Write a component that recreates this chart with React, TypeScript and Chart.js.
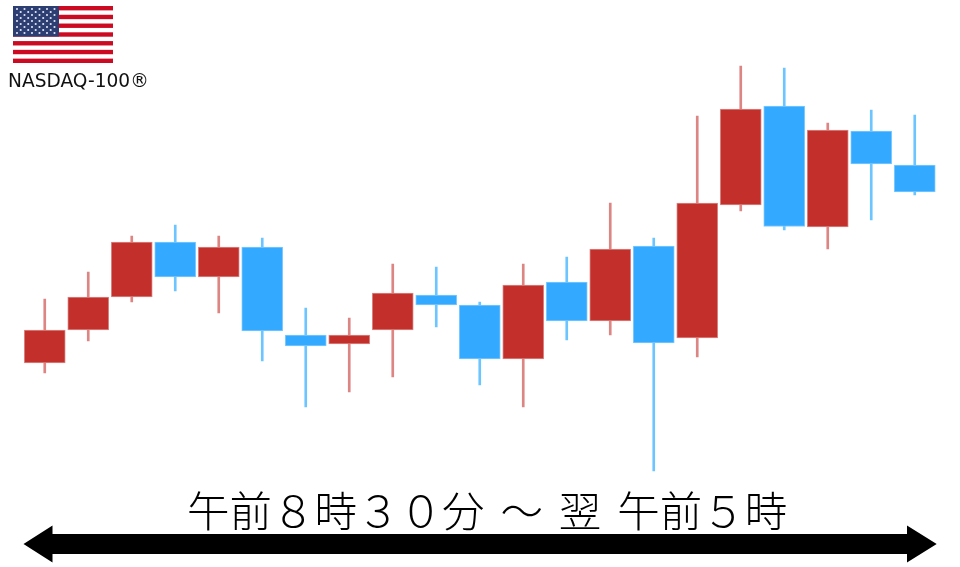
import React, { useEffect, useRef } from "react";
import { Chart, registerables } from "chart.js";

Chart.register(...registerables);

const categories = ["1","2","3","4","5","6","7","8","9","10","11","12","13","14","15","16","17","18","19","20","21"];
const opens = [204,237,270,325,290,320,232,223,237,272,262,208,285,246,321,229,362,461,340,436,402];
const closes = [237,270,325,290,320,236,221,232,274,262,208,282,246,318,224,364,458,340.5,437,403,375];
const highs = [268,295,331,342,331,329,259,249,303,300,265,303,310,364,329,451,501,499,444,457,452];
const lows = [194,226,265,276,254,206,160,175,190,240,182,160,227,232,96,210,356,337,318,347,372];
const bodyRanges = opens.map((o, i) => [o, closes[i]]);
const wickRanges = lows.map((l, i) => [l, highs[i]]);
const isUp = opens.map((o, i) => closes[i] > o);

const flagStripes = [0,1,2,3,4,5,6,7,8,9,10,11,12];
const starRows = [0,1,2,3,4,5,6,7,8];

export default function App() {
  const ref = useRef<HTMLCanvasElement>(null);
  useEffect(() => {
    const arrowPlugin = {
      id: "arrow",
      afterDraw(chart: any) {
        const c = chart.ctx;
        c.save();
        c.fillStyle = "#000";
        c.beginPath();
        c.moveTo(23.5, 544);
        c.lineTo(52.5, 525.5);
        c.lineTo(52.5, 534);
        c.lineTo(907, 534);
        c.lineTo(907, 525.5);
        c.lineTo(936.7, 544);
        c.lineTo(907, 562.5);
        c.lineTo(907, 554);
        c.lineTo(52.5, 554);
        c.lineTo(52.5, 562.5);
        c.closePath();
        c.fill();
        c.restore();
      },
    };
    const chart = new Chart(ref.current!, {
      type: "bar",
      data: {
        labels: categories,
        datasets: [
          {
            label: "body",
            data: bodyRanges as any,
            barThickness: 41,
            grouped: false,
            order: 1,
            backgroundColor: isUp.map((u) => (u ? "#C32F2A" : "#33A9FF")),
            borderColor: isUp.map((u) => (u ? "#DC8885" : "#7FCBFF")),
            borderWidth: 1,
            borderSkipped: false,
          },
          {
            label: "wick",
            data: wickRanges as any,
            barThickness: 2,
            grouped: false,
            order: 2,
            backgroundColor: isUp.map((u) => (u ? "#DD8583" : "#6CC5FF")),
            borderWidth: 0,
          },
        ],
      },
      options: {
        responsive: false,
        animation: false,
        layout: { padding: { left: 23, right: 23.5, top: 0, bottom: 0 } },
        plugins: { legend: { display: false }, tooltip: { enabled: false } },
        scales: {
          x: { display: false, offset: true, grid: { display: false } },
          y: { display: false, min: 0, max: 567 },
        },
      },
      plugins: [arrowPlugin],
    } as any);
    return () => chart.destroy();
  }, []);

  return (
    <div style={{ position: "fixed", left: 0, top: 0, width: 960, height: 567, background: "#fff", overflow: "hidden" }}>
      <canvas ref={ref} width={960} height={567} style={{ position: "absolute", left: 0, top: 0, display: "block" }} />
      <svg width={100} height={57} viewBox="0 0 100 57" style={{ position: "absolute", left: 13, top: 6, filter: "blur(0.4px)" }}>
        <rect width={100} height={57} fill="#fff" />
        {flagStripes.filter((s) => s % 2 === 0).map((s) => (
          <rect key={s} x={0} y={(s * 57) / 13} width={100} height={57 / 13} fill="#CC0A22" />
        ))}
        <rect x={0} y={0} width={46} height={30.5} fill="#2D3E72" />
        {starRows.map((r) =>
          Array.from({ length: r % 2 === 0 ? 6 : 5 }).map((_, k) => (
            <circle key={`${r}-${k}`} cx={(r % 2 === 0 ? 4 : 7.7) + k * 7.5} cy={3 + r * 3} r={1.05} fill="#E4E8F2" />
          ))
        )}
      </svg>
      <div style={{ position: "absolute", left: 8, top: 69.5, fontFamily: "'DejaVu Sans'", fontSize: 18.6, lineHeight: "22px", color: "#111", whiteSpace: "nowrap" }}>
        NASDAQ-100®
      </div>
      <div style={{ position: "absolute", left: 187, top: 479, fontFamily: "'Noto Sans CJK JP'", fontWeight: 300, fontSize: 42.5, wordSpacing: 6.5, lineHeight: "60px", color: "#000", whiteSpace: "pre" }}>
        午前８時３０分 ～ 翌 午前５時
      </div>
    </div>
  );
}
